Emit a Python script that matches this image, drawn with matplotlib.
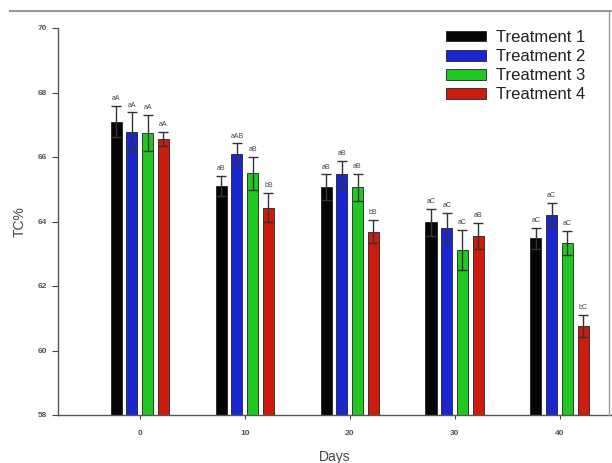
import matplotlib.pyplot as plt
from matplotlib.lines import Line2D
import numpy as np

days = [0, 10, 20, 30, 40]
treatments = ["Treatment 1", "Treatment 2", "Treatment 3", "Treatment 4"]

# mean TC% per treatment at each sampling day
t1 = [67.10, 65.10, 65.06, 63.98, 63.48]
t2 = [66.78, 66.10, 65.46, 63.80, 64.21]
t3 = [66.75, 65.49, 65.06, 63.13, 63.34]
t4 = [66.55, 64.43, 63.68, 63.56, 60.75]

# standard deviations
e1 = [0.48, 0.30, 0.40, 0.42, 0.32]
e2 = [0.60, 0.32, 0.42, 0.46, 0.36]
e3 = [0.56, 0.52, 0.42, 0.62, 0.38]
e4 = [0.22, 0.45, 0.36, 0.40, 0.34]

# significance letters
l1 = ["aA", "aB", "aB", "aC", "aC"]
l2 = ["aA", "aAB", "aB", "aC", "aC"]
l3 = ["aA", "aB", "aB", "aC", "aC"]
l4 = ["aA", "bB", "bB", "aB", "bC"]

means = [t1, t2, t3, t4]
errs = [e1, e2, e3, e4]
letters = [l1, l2, l3, l4]
colors = ["#050505", "#1a26cf", "#22c822", "#cc1c0e"]

plt.rcParams["font.family"] = ["Liberation Sans", "DejaVu Sans"]

fig = plt.figure(figsize=(6.12, 4.63), dpi=100)
ax = fig.add_axes([58 / 612, 1 - 415 / 463, 1 - 58 / 612, (415 - 28) / 463])

x = np.array(days, dtype=float)
width = 1.05
offsets = [-2.25, -0.75, 0.75, 2.25]

for i in range(4):
    xs = x + offsets[i]
    ax.bar(xs, means[i], width=width, bottom=0, color=colors[i],
           edgecolor="#222222", linewidth=0.6, label=treatments[i], zorder=2)
    ax.errorbar(xs, means[i], yerr=errs[i], fmt="none", ecolor="#333333",
                elinewidth=1.0, capsize=3.6, capthick=1.0, zorder=3)
    for xi, m, e, lab in zip(xs, means[i], errs[i], letters[i]):
        ax.text(xi, m + e + 0.12, lab, ha="center", va="bottom",
                fontsize=5, color="#444444")

ax.set_xlim(-7.8, 45)
ax.set_ylim(58, 70)
ax.set_yticks([58, 60, 62, 64, 66, 68, 70])
ax.set_xticks(days)
ax.tick_params(axis="both", direction="out", length=4, width=0.8,
               labelsize=6, colors="#444444", pad=4)
ax.tick_params(axis="x", length=3, pad=8)
for lab in ax.get_xticklabels() + ax.get_yticklabels():
    lab.set_fontweight("bold")
    lab.set_color("#555555")

for side in ["top", "right"]:
    ax.spines[side].set_visible(False)
for side in ["left", "bottom"]:
    ax.spines[side].set_color("#555555")
    ax.spines[side].set_linewidth(1.0)

ax.set_ylabel("TC%", fontsize=10, color="#444444", labelpad=8)
ax.set_xlabel("Days", fontsize=10, color="#444444", labelpad=9)

leg = ax.legend(loc="upper left", bbox_to_anchor=(0.68, 1.025), frameon=False,
                fontsize=12, handlelength=2.4, handleheight=0.6,
                handletextpad=0.6, labelspacing=0.25, borderaxespad=0.3)
for t in leg.get_texts():
    t.set_color("#222222")

# frame lines along the top and right of the figure
fig.add_artist(Line2D([10 / 612, 1.0], [1 - 11 / 463, 1 - 11 / 463],
                      color="#9a9a9a", linewidth=1.5))
fig.add_artist(Line2D([609 / 612, 609 / 612], [1 - 11 / 463, 1 - 415 / 463],
                      color="#9a9a9a", linewidth=1.0))

fig.savefig("out.png", dpi=100)
